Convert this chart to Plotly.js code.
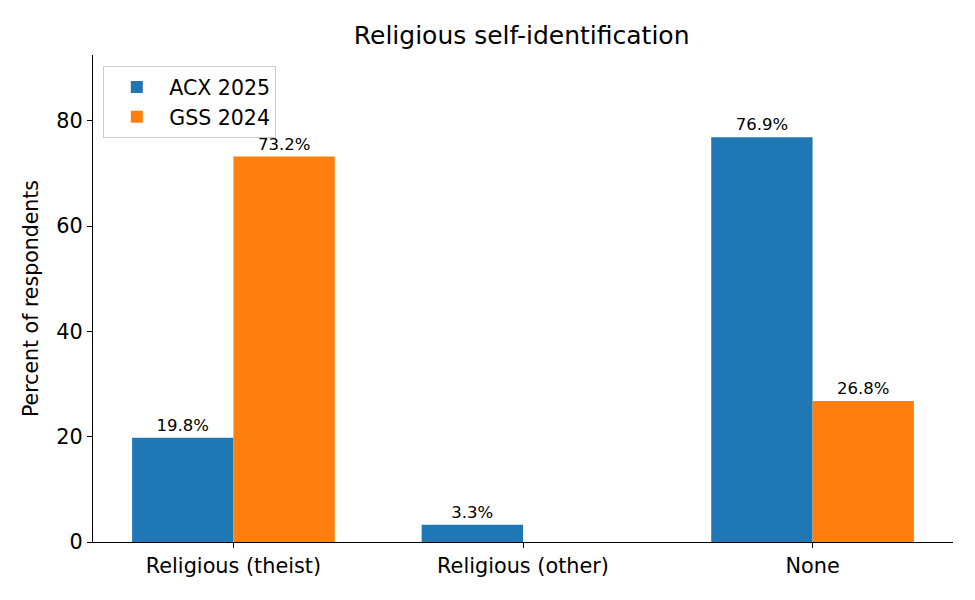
<!DOCTYPE html>
<html><head><meta charset="utf-8">
<script src="https://cdn.plot.ly/plotly-3.0.1.min.js"></script>
<style>html,body{margin:0;padding:0;background:#fff}#chart{width:975px;height:600px}</style>
</head><body><div id="chart"></div>
<script>
var categories = ["Religious (theist)", "Religious (other)", "None"];
var acx2025 = [19.8, 3.3, 76.9];
var gss2024 = [73.2, null, 26.8];
var seriesNames = ["ACX 2025", "GSS 2024"];

function labels(arr){ return arr.map(function(v){ return v === null ? "" : v.toFixed(1) + "%"; }); }

var font = "DejaVu Sans, sans-serif";
var traces = [
  {type:"bar", name:seriesNames[0], x:categories, y:acx2025, marker:{color:"#1f77b4", line:{width:0}},
   text:labels(acx2025), textposition:"outside", cliponaxis:false,
   textfont:{family:font, size:16.5, color:"#000"}, hoverinfo:"y"},
  {type:"bar", name:seriesNames[1], x:categories, y:gss2024, marker:{color:"#ff7f0e", line:{width:0}},
   text:labels(gss2024), textposition:"outside", cliponaxis:false,
   textfont:{family:font, size:16.5, color:"#000"}, hoverinfo:"y"}
];
var layout = {
  width:975, height:600,
  margin:{l:93, r:22, t:55, b:58},
  paper_bgcolor:"#fff", plot_bgcolor:"#fff",
  font:{family:font, size:20, color:"#000"},
  title:{text:"Religious self-identification", x:0.535, xanchor:"center", y:0.942, yanchor:"middle",
         font:{family:font, size:25, color:"#000"}},
  barmode:"group", bargap:0.3, bargroupgap:0,
  xaxis:{type:"category", range:[-0.485, 2.485], showgrid:false, zeroline:false,
         showline:true, linecolor:"#000", linewidth:1.2, ticks:"outside", ticklen:5,
         tickcolor:"#000", tickfont:{family:font, size:20.8}},
  yaxis:{range:[0, 92.5], tickvals:[0,20,40,60,80], showgrid:false, zeroline:false,
         showline:true, linecolor:"#000", linewidth:1.2, ticks:"outside", ticklen:5,
         tickcolor:"#000", tickfont:{family:font, size:20.8},
         title:{text:"Percent of respondents", font:{family:font, size:20.5}, standoff:12}},
  legend:{x:0.012, y:0.977, xanchor:"left", yanchor:"top", bgcolor:"rgba(255,255,255,0.8)",
          bordercolor:"#cccccc", borderwidth:1, font:{family:font, size:20.5},
          itemwidth:55, tracegroupgap:0},
  showlegend:true
};
Plotly.newPlot("chart", traces, layout, {displayModeBar:false, staticPlot:true});
</script></body></html>
